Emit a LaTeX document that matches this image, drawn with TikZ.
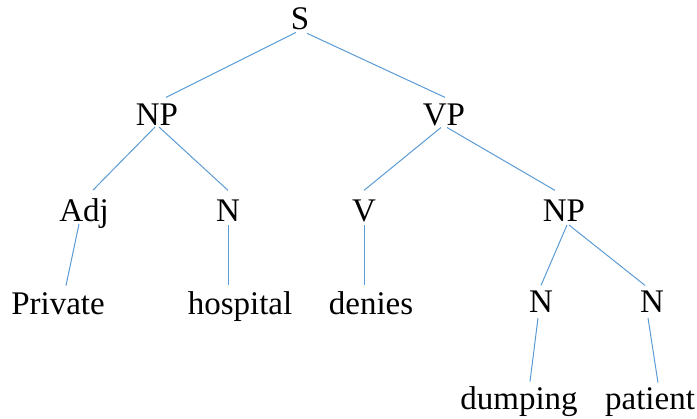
\documentclass[tikz,border=0pt]{standalone}
\usepackage{fontspec}
\setmainfont{Liberation Serif}
\begin{document}
\begin{tikzpicture}[x=1pt,y=-1pt,
  lbl/.style={inner sep=0pt,outer sep=0pt,anchor=base,font=\fontsize{33}{38}\selectfont},
  br/.style={draw=branch,line width=1pt}]
\definecolor{branch}{RGB}{91,155,213}
\useasboundingbox (0,0) rectangle (697,419);
% labels, placed on their baselines
\node[lbl] (s)    at (300,30)  {S};
\node[lbl] (np)   at (157,126) {NP};
\node[lbl] (vp)   at (444,126) {VP};
\node[lbl] (adj)  at (84,222)  {Adj};
\node[lbl] (n1)   at (228,222) {N};
\node[lbl] (v)    at (364,222) {V};
\node[lbl] (np2)  at (564,222) {NP};
\node[lbl] (priv) at (58,315)  {Private};
\node[lbl] (hosp) at (240,315) {hospital};
\node[lbl] (den)  at (371,315) {denies};
\node[lbl] (n2)   at (541,313) {N};
\node[lbl] (n3)   at (652,313) {N};
\node[lbl] (dump) at (519,410) {dumping};
\node[lbl] (pat)  at (650,410) {patient};
% branches
\draw[br] ([shift={(-4,2)}]s.south)   -- ([shift={(9,-7)}]np.north);
\draw[br] ([shift={(7,3)}]s.south)    -- ([shift={(1,-7)}]vp.north);
\draw[br] ([shift={(-2,1)}]np.south)  -- ([shift={(9,-9)}]adj.north);
\draw[br] ([shift={(2,1)}]np.south)   -- ([shift={(0,-10)}]n1.north);
\draw[br] ([shift={(-3,1)}]vp.south)  -- ([shift={(0,-10)}]v.north);
\draw[br] ([shift={(3,1)}]vp.south)   -- ([shift={(-9,-10)}]np2.north);
\draw[br] ([shift={(-5,-5)}]adj.south) -- ([shift={(8,-7.5)}]priv.north);
\draw[br] ([shift={(0,3)}]n1.south)   -- ([shift={(-12,-7.5)}]hosp.north);
\draw[br] ([shift={(0,3)}]v.south)    -- ([shift={(-7,-7.5)}]den.north);
\draw[br] ([shift={(3,3)}]np2.south)  -- ([shift={(0,-6)}]n2.north);
\draw[br] ([shift={(5,3)}]np2.south)  -- ([shift={(-7,-6)}]n3.north);
\draw[br] ([shift={(-3,5)}]n2.south)  -- ([shift={(11,-5.5)}]dump.north);
\draw[br] ([shift={(-4,5)}]n3.south)  -- ([shift={(8,-5.5)}]pat.north);
\end{tikzpicture}
\end{document}
